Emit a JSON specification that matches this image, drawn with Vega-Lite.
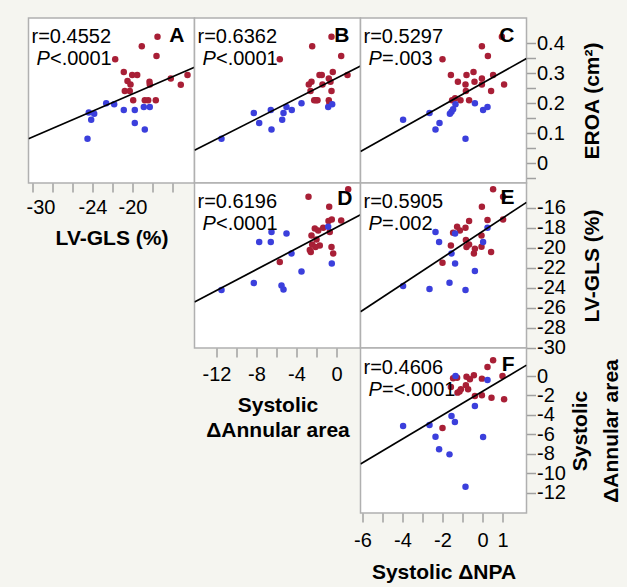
{
  "$schema": "https://vega.github.io/schema/vega-lite/v6.json",
  "background": "#f5f5f0",
  "padding": {"left": 24.5, "top": 17, "right": 4, "bottom": 4},
  "datasets": {
    "pts": [
      {"panel":"A","grp":"G1","x":-17.5,"y":0.422},{"panel":"A","grp":"G1","x":-19.07,"y":0.39},{"panel":"A","grp":"G1","x":-17.6,"y":0.358},{"panel":"A","grp":"G1","x":-21.73,"y":0.347},{"panel":"A","grp":"G1","x":-20.87,"y":0.304},{"panel":"A","grp":"G1","x":-20.03,"y":0.294},{"panel":"A","grp":"G1","x":-19.53,"y":0.294},{"panel":"A","grp":"G1","x":-20.5,"y":0.274},{"panel":"A","grp":"G1","x":-20.2,"y":0.263},{"panel":"A","grp":"G1","x":-18.3,"y":0.272},{"panel":"A","grp":"G1","x":-18.27,"y":0.263},{"panel":"A","grp":"G1","x":-16.17,"y":0.283},{"panel":"A","grp":"G1","x":-14.5,"y":0.294},{"panel":"A","grp":"G1","x":-15.17,"y":0.262},{"panel":"A","grp":"G1","x":-20.77,"y":0.241},{"panel":"A","grp":"G1","x":-20.27,"y":0.241},{"panel":"A","grp":"G1","x":-19.93,"y":0.21},{"panel":"A","grp":"G1","x":-18.77,"y":0.21},{"panel":"A","grp":"G1","x":-18.43,"y":0.21},{"panel":"A","grp":"G1","x":-17.67,"y":0.21},
      {"panel":"A","grp":"G2","x":-22.63,"y":0.2},{"panel":"A","grp":"G2","x":-21.83,"y":0.197},{"panel":"A","grp":"G2","x":-24.37,"y":0.169},{"panel":"A","grp":"G2","x":-23.83,"y":0.165},{"panel":"A","grp":"G2","x":-24.13,"y":0.145},{"panel":"A","grp":"G2","x":-20.87,"y":0.178},{"panel":"A","grp":"G2","x":-19.77,"y":0.178},{"panel":"A","grp":"G2","x":-18.87,"y":0.188},{"panel":"A","grp":"G2","x":-18.27,"y":0.188},{"panel":"A","grp":"G2","x":-19.77,"y":0.134},{"panel":"A","grp":"G2","x":-18.77,"y":0.113},{"panel":"A","grp":"G2","x":-24.5,"y":0.082},
      {"panel":"B","grp":"G1","x":-0.5,"y":0.422},{"panel":"B","grp":"G1","x":-2.43,"y":0.39},{"panel":"B","grp":"G1","x":0.47,"y":0.358},{"panel":"B","grp":"G1","x":-5.67,"y":0.347},{"panel":"B","grp":"G1","x":-0.37,"y":0.304},{"panel":"B","grp":"G1","x":-1.7,"y":0.294},{"panel":"B","grp":"G1","x":-1.47,"y":0.294},{"panel":"B","grp":"G1","x":1.1,"y":0.294},{"panel":"B","grp":"G1","x":-0.77,"y":0.283},{"panel":"B","grp":"G1","x":-2.5,"y":0.272},{"panel":"B","grp":"G1","x":-2.77,"y":0.263},{"panel":"B","grp":"G1","x":-1.4,"y":0.263},{"panel":"B","grp":"G1","x":-0.6,"y":0.272},{"panel":"B","grp":"G1","x":-2.6,"y":0.241},{"panel":"B","grp":"G1","x":-0.5,"y":0.241},{"panel":"B","grp":"G1","x":-2.23,"y":0.21},{"panel":"B","grp":"G1","x":-1.9,"y":0.21},{"panel":"B","grp":"G1","x":-0.77,"y":0.21},{"panel":"B","grp":"G1","x":-2.05,"y":0.21},{"panel":"B","grp":"G1","x":-0.7,"y":0.2},
      {"panel":"B","grp":"G2","x":-11.5,"y":0.082},{"panel":"B","grp":"G2","x":-8.27,"y":0.168},{"panel":"B","grp":"G2","x":-7.73,"y":0.134},{"panel":"B","grp":"G2","x":-6.57,"y":0.178},{"panel":"B","grp":"G2","x":-6.5,"y":0.113},{"panel":"B","grp":"G2","x":-5.43,"y":0.145},{"panel":"B","grp":"G2","x":-5.3,"y":0.168},{"panel":"B","grp":"G2","x":-5.0,"y":0.188},{"panel":"B","grp":"G2","x":-4.47,"y":0.178},{"panel":"B","grp":"G2","x":-3.5,"y":0.2},{"panel":"B","grp":"G2","x":-0.83,"y":0.188},{"panel":"B","grp":"G2","x":-0.43,"y":0.197},
      {"panel":"C","grp":"G1","x":0.97,"y":0.422},{"panel":"C","grp":"G1","x":-0.03,"y":0.39},{"panel":"C","grp":"G1","x":0.27,"y":0.358},{"panel":"C","grp":"G1","x":-2.0,"y":0.347},{"panel":"C","grp":"G1","x":-1.58,"y":0.294},{"panel":"C","grp":"G1","x":-0.8,"y":0.294},{"panel":"C","grp":"G1","x":-0.45,"y":0.304},{"panel":"C","grp":"G1","x":-1.23,"y":0.272},{"panel":"C","grp":"G1","x":-0.4,"y":0.272},{"panel":"C","grp":"G1","x":-0.03,"y":0.283},{"panel":"C","grp":"G1","x":0.53,"y":0.294},{"panel":"C","grp":"G1","x":-0.85,"y":0.263},{"panel":"C","grp":"G1","x":-0.03,"y":0.263},{"panel":"C","grp":"G1","x":1.08,"y":0.263},{"panel":"C","grp":"G1","x":-0.83,"y":0.241},{"panel":"C","grp":"G1","x":0.43,"y":0.241},{"panel":"C","grp":"G1","x":-1.52,"y":0.21},{"panel":"C","grp":"G1","x":-1.1,"y":0.21},{"panel":"C","grp":"G1","x":-0.67,"y":0.21},{"panel":"C","grp":"G1","x":-1.37,"y":0.217},
      {"panel":"C","grp":"G2","x":-3.97,"y":0.145},{"panel":"C","grp":"G2","x":-2.65,"y":0.168},{"panel":"C","grp":"G2","x":-2.35,"y":0.113},{"panel":"C","grp":"G2","x":-2.15,"y":0.134},{"panel":"C","grp":"G2","x":-1.63,"y":0.165},{"panel":"C","grp":"G2","x":-1.55,"y":0.172},{"panel":"C","grp":"G2","x":-1.47,"y":0.18},{"panel":"C","grp":"G2","x":-1.35,"y":0.197},{"panel":"C","grp":"G2","x":-0.38,"y":0.2},{"panel":"C","grp":"G2","x":0.03,"y":0.178},{"panel":"C","grp":"G2","x":0.25,"y":0.188},{"panel":"C","grp":"G2","x":-0.85,"y":0.082},
      {"panel":"D","grp":"G1","x":1.17,"y":-14.16},{"panel":"D","grp":"G1","x":-2.8,"y":-14.9},{"panel":"D","grp":"G1","x":-0.73,"y":-15.9},{"panel":"D","grp":"G1","x":-0.8,"y":-17.33},{"panel":"D","grp":"G1","x":-0.47,"y":-17.17},{"panel":"D","grp":"G1","x":0.47,"y":-17.27},{"panel":"D","grp":"G1","x":-2.17,"y":-18.07},{"panel":"D","grp":"G1","x":-1.83,"y":-18.27},{"panel":"D","grp":"G1","x":-1.33,"y":-18.0},{"panel":"D","grp":"G1","x":-0.67,"y":-18.43},{"panel":"D","grp":"G1","x":-2.5,"y":-18.77},{"panel":"D","grp":"G1","x":-2.0,"y":-19.17},{"panel":"D","grp":"G1","x":-2.43,"y":-19.67},{"panel":"D","grp":"G1","x":-1.67,"y":-19.77},{"panel":"D","grp":"G1","x":-2.1,"y":-19.93},{"panel":"D","grp":"G1","x":-2.57,"y":-20.43},{"panel":"D","grp":"G1","x":-2.67,"y":-20.23},{"panel":"D","grp":"G1","x":-0.5,"y":-19.93},{"panel":"D","grp":"G1","x":-0.33,"y":-20.57},{"panel":"D","grp":"G1","x":-5.67,"y":-21.43},
      {"panel":"D","grp":"G2","x":-6.5,"y":-18.43},{"panel":"D","grp":"G2","x":-5.0,"y":-18.57},{"panel":"D","grp":"G2","x":-7.73,"y":-19.43},{"panel":"D","grp":"G2","x":-6.57,"y":-19.43},{"panel":"D","grp":"G2","x":-4.5,"y":-20.57},{"panel":"D","grp":"G2","x":-0.83,"y":-17.9},{"panel":"D","grp":"G2","x":-0.47,"y":-21.57},{"panel":"D","grp":"G2","x":-3.5,"y":-22.37},{"panel":"D","grp":"G2","x":-8.27,"y":-23.53},{"panel":"D","grp":"G2","x":-5.5,"y":-23.77},{"panel":"D","grp":"G2","x":-5.3,"y":-24.17},{"panel":"D","grp":"G2","x":-11.5,"y":-24.23},
      {"panel":"E","grp":"G1","x":0.53,"y":-14.16},{"panel":"E","grp":"G1","x":1.03,"y":-14.9},{"panel":"E","grp":"G1","x":-0.03,"y":-15.9},{"panel":"E","grp":"G1","x":-0.67,"y":-17.33},{"panel":"E","grp":"G1","x":0.25,"y":-17.23},{"panel":"E","grp":"G1","x":1.03,"y":-17.17},{"panel":"E","grp":"G1","x":-1.27,"y":-17.9},{"panel":"E","grp":"G1","x":-0.85,"y":-18.0},{"panel":"E","grp":"G1","x":-1.13,"y":-18.27},{"panel":"E","grp":"G1","x":-1.47,"y":-18.5},{"panel":"E","grp":"G1","x":-0.05,"y":-18.77},{"panel":"E","grp":"G1","x":-0.83,"y":-19.23},{"panel":"E","grp":"G1","x":-1.58,"y":-19.77},{"panel":"E","grp":"G1","x":-0.8,"y":-19.93},{"panel":"E","grp":"G1","x":-0.67,"y":-19.67},{"panel":"E","grp":"G1","x":-0.05,"y":-19.9},{"panel":"E","grp":"G1","x":-0.38,"y":-20.1},{"panel":"E","grp":"G1","x":-0.43,"y":-20.57},{"panel":"E","grp":"G1","x":0.43,"y":-20.43},{"panel":"E","grp":"G1","x":-2.0,"y":-21.5},
      {"panel":"E","grp":"G2","x":-2.35,"y":-18.43},{"panel":"E","grp":"G2","x":-1.37,"y":-18.57},{"panel":"E","grp":"G2","x":-2.17,"y":-19.43},{"panel":"E","grp":"G2","x":0.25,"y":-18.0},{"panel":"E","grp":"G2","x":0.03,"y":-19.43},{"panel":"E","grp":"G2","x":-1.55,"y":-20.57},{"panel":"E","grp":"G2","x":-1.37,"y":-21.57},{"panel":"E","grp":"G2","x":-0.38,"y":-22.33},{"panel":"E","grp":"G2","x":-3.97,"y":-23.83},{"panel":"E","grp":"G2","x":-1.65,"y":-23.5},{"panel":"E","grp":"G2","x":-2.65,"y":-24.13},{"panel":"E","grp":"G2","x":-0.85,"y":-24.23},
      {"panel":"F","grp":"G1","x":0.53,"y":1.61},{"panel":"F","grp":"G1","x":0.25,"y":0.93},{"panel":"F","grp":"G1","x":-1.47,"y":-0.24},{"panel":"F","grp":"G1","x":-1.27,"y":-0.17},{"panel":"F","grp":"G1","x":-0.8,"y":-0.07},{"panel":"F","grp":"G1","x":-0.63,"y":-0.34},{"panel":"F","grp":"G1","x":-0.43,"y":0.07},{"panel":"F","grp":"G1","x":-0.03,"y":-0.27},{"panel":"F","grp":"G1","x":1.0,"y":0.0},{"panel":"F","grp":"G1","x":-1.58,"y":-1.13},{"panel":"F","grp":"G1","x":-1.08,"y":-1.37},{"panel":"F","grp":"G1","x":-0.83,"y":-0.96},{"panel":"F","grp":"G1","x":-0.72,"y":-1.37},{"panel":"F","grp":"G1","x":-1.25,"y":-1.71},{"panel":"F","grp":"G1","x":-0.38,"y":-2.06},{"panel":"F","grp":"G1","x":-0.03,"y":-1.99},{"panel":"F","grp":"G1","x":0.45,"y":-2.23},{"panel":"F","grp":"G1","x":1.08,"y":-2.4},{"panel":"F","grp":"G1","x":-2.0,"y":-5.35},{"panel":"F","grp":"G1","x":-1.15,"y":-1.6},
      {"panel":"F","grp":"G2","x":-1.35,"y":0.0},{"panel":"F","grp":"G2","x":0.25,"y":-0.41},{"panel":"F","grp":"G2","x":-0.38,"y":-3.09},{"panel":"F","grp":"G2","x":-1.55,"y":-4.12},{"panel":"F","grp":"G2","x":-1.38,"y":-4.73},{"panel":"F","grp":"G2","x":-3.97,"y":-5.14},{"panel":"F","grp":"G2","x":-2.65,"y":-5.04},{"panel":"F","grp":"G2","x":-2.35,"y":-6.24},{"panel":"F","grp":"G2","x":0.03,"y":-6.28},{"panel":"F","grp":"G2","x":-2.17,"y":-7.54},{"panel":"F","grp":"G2","x":-1.65,"y":-8.06},{"panel":"F","grp":"G2","x":-0.85,"y":-11.39}
    ],
    "fit": [
      {"panel":"A","x":-30.4,"y":0.0817},{"panel":"A","x":-13.8,"y":0.3203},
      {"panel":"B","x":-14.2,"y":0.0433},{"panel":"B","x":2.4,"y":0.3242},
      {"panel":"C","x":-6.1,"y":0.0391},{"panel":"C","x":2.2,"y":0.3492},
      {"panel":"D","x":-14.2,"y":-25.44},{"panel":"D","x":2.4,"y":-16.71},
      {"panel":"E","x":-6.1,"y":-26.4},{"panel":"E","x":2.2,"y":-15.47},
      {"panel":"F","x":-6.1,"y":-9.04},{"panel":"F","x":2.2,"y":1.118}
    ],
    "stats": [
      {"panel":"A","r":"r=0.4552","p":"<.0001"},
      {"panel":"B","r":"r=0.6362","p":"<.0001"},
      {"panel":"C","r":"r=0.5297","p":"=.003"},
      {"panel":"D","r":"r=0.6196","p":"<.0001"},
      {"panel":"E","r":"r=0.5905","p":"=.002"},
      {"panel":"F","r":"r=0.4606","p":"=<.0001"}
    ]
  },
  "columns": 3,
  "spacing": 0,
  "bounds": "flush",
  "concat": [
    {
      "width": 166, "height": 165,
      "layer": [
        {"data": {"name": "pts"}, "transform": [{"filter": "datum.panel == 'A'"}], "mark": {"type": "circle", "size": 42, "opacity": 1},
         "encoding": {
           "x": {"field": "x", "type": "quantitative", "scale": {"domain": [-30.4, -13.8], "nice": false, "zero": false},
                 "axis": {"orient": "bottom", "values": [-30,-28,-26,-24,-22,-20,-18,-16], "tickCount": 30, "labelExpr": "indexof([-30,-24,-20], datum.value) >= 0 ? toString(datum.value) : ''", "labelOverlap": false, "labelOffset": {"condition": {"test": "datum.value == -30", "value": 8}, "value": 0}, "labelPadding": 5, "title": "LV-GLS (%)", "titlePadding": 10}},
           "y": {"field": "y", "type": "quantitative", "scale": {"domain": [-0.0657, 0.4843], "nice": false, "zero": false}, "axis": null},
           "color": {"field": "grp", "type": "nominal", "scale": {"domain": ["G1", "G2"], "range": ["#a81f36", "#3b3fdc"]}, "legend": null}}},
        {"data": {"name": "fit"}, "transform": [{"filter": "datum.panel == 'A'"}], "mark": {"type": "line", "color": "black", "strokeWidth": 1.7, "clip": true},
         "encoding": {"x": {"field": "x", "type": "quantitative"}, "y": {"field": "y", "type": "quantitative"}}},
        {"data": {"name": "stats"}, "transform": [{"filter": "datum.panel == 'A'"}], "mark": {"type": "text", "align": "left", "baseline": "alphabetic", "dx": 3, "dy": 25},
         "encoding": {"x": {"datum": -30.4, "type": "quantitative"}, "y": {"datum": 0.4843, "type": "quantitative"}, "text": {"field": "r"}}},
        {"data": {"name": "stats"}, "transform": [{"filter": "datum.panel == 'A'"}], "mark": {"type": "text", "align": "left", "baseline": "alphabetic", "dx": 8, "dy": 47, "fontStyle": "italic", "text": "P"},
         "encoding": {"x": {"datum": -30.4, "type": "quantitative"}, "y": {"datum": 0.4843, "type": "quantitative"}}},
        {"data": {"name": "stats"}, "transform": [{"filter": "datum.panel == 'A'"}], "mark": {"type": "text", "align": "left", "baseline": "alphabetic", "dx": 21.5, "dy": 47},
         "encoding": {"x": {"datum": -30.4, "type": "quantitative"}, "y": {"datum": 0.4843, "type": "quantitative"}, "text": {"field": "p"}}},
        {"data": {"name": "stats"}, "transform": [{"filter": "datum.panel == 'A'"}], "mark": {"type": "text", "align": "right", "baseline": "alphabetic", "dx": -10, "dy": 24, "fontWeight": "bold", "fontSize": 21},
         "encoding": {"x": {"datum": -13.8, "type": "quantitative"}, "y": {"datum": 0.4843, "type": "quantitative"}, "text": {"field": "panel"}}}
      ]
    },
    {
      "width": 166, "height": 165,
      "layer": [
        {"data": {"name": "pts"}, "transform": [{"filter": "datum.panel == 'B'"}], "mark": {"type": "circle", "size": 42, "opacity": 1},
         "encoding": {
           "x": {"field": "x", "type": "quantitative", "scale": {"domain": [-14.2, 2.4], "nice": false, "zero": false}, "axis": null},
           "y": {"field": "y", "type": "quantitative", "scale": {"domain": [-0.0657, 0.4843], "nice": false, "zero": false}, "axis": null},
           "color": {"field": "grp", "type": "nominal", "scale": {"domain": ["G1", "G2"], "range": ["#a81f36", "#3b3fdc"]}, "legend": null}}},
        {"data": {"name": "fit"}, "transform": [{"filter": "datum.panel == 'B'"}], "mark": {"type": "line", "color": "black", "strokeWidth": 1.7, "clip": true},
         "encoding": {"x": {"field": "x", "type": "quantitative"}, "y": {"field": "y", "type": "quantitative"}}},
        {"data": {"name": "stats"}, "transform": [{"filter": "datum.panel == 'B'"}], "mark": {"type": "text", "align": "left", "baseline": "alphabetic", "dx": 3, "dy": 25},
         "encoding": {"x": {"datum": -14.2, "type": "quantitative"}, "y": {"datum": 0.4843, "type": "quantitative"}, "text": {"field": "r"}}},
        {"data": {"name": "stats"}, "transform": [{"filter": "datum.panel == 'B'"}], "mark": {"type": "text", "align": "left", "baseline": "alphabetic", "dx": 8, "dy": 47, "fontStyle": "italic", "text": "P"},
         "encoding": {"x": {"datum": -14.2, "type": "quantitative"}, "y": {"datum": 0.4843, "type": "quantitative"}}},
        {"data": {"name": "stats"}, "transform": [{"filter": "datum.panel == 'B'"}], "mark": {"type": "text", "align": "left", "baseline": "alphabetic", "dx": 21.5, "dy": 47},
         "encoding": {"x": {"datum": -14.2, "type": "quantitative"}, "y": {"datum": 0.4843, "type": "quantitative"}, "text": {"field": "p"}}},
        {"data": {"name": "stats"}, "transform": [{"filter": "datum.panel == 'B'"}], "mark": {"type": "text", "align": "right", "baseline": "alphabetic", "dx": -11, "dy": 24, "fontWeight": "bold", "fontSize": 21},
         "encoding": {"x": {"datum": 2.4, "type": "quantitative"}, "y": {"datum": 0.4843, "type": "quantitative"}, "text": {"field": "panel"}}}
      ]
    },
    {
      "width": 166, "height": 165,
      "layer": [
        {"data": {"name": "pts"}, "transform": [{"filter": "datum.panel == 'C'"}], "mark": {"type": "circle", "size": 42, "opacity": 1},
         "encoding": {
           "x": {"field": "x", "type": "quantitative", "scale": {"domain": [-6.1, 2.2], "nice": false, "zero": false}, "axis": null},
           "y": {"field": "y", "type": "quantitative", "scale": {"domain": [-0.0657, 0.4843], "nice": false, "zero": false},
                 "axis": {"orient": "right", "values": [-0.05,0,0.05,0.1,0.15,0.2,0.25,0.3,0.35,0.4], "tickCount": 30, "labelExpr": "indexof([0,0.1,0.2,0.3,0.4], datum.value) >= 0 ? toString(datum.value) : ''", "labelOverlap": false, "labelPadding": 1, "title": "EROA (cm²)", "titleAngle": 270, "titleBaseline": "top", "titlePadding": 17}},
           "color": {"field": "grp", "type": "nominal", "scale": {"domain": ["G1", "G2"], "range": ["#a81f36", "#3b3fdc"]}, "legend": null}}},
        {"data": {"name": "fit"}, "transform": [{"filter": "datum.panel == 'C'"}], "mark": {"type": "line", "color": "black", "strokeWidth": 1.7, "clip": true},
         "encoding": {"x": {"field": "x", "type": "quantitative"}, "y": {"field": "y", "type": "quantitative"}}},
        {"data": {"name": "stats"}, "transform": [{"filter": "datum.panel == 'C'"}], "mark": {"type": "text", "align": "left", "baseline": "alphabetic", "dx": 3, "dy": 25},
         "encoding": {"x": {"datum": -6.1, "type": "quantitative"}, "y": {"datum": 0.4843, "type": "quantitative"}, "text": {"field": "r"}}},
        {"data": {"name": "stats"}, "transform": [{"filter": "datum.panel == 'C'"}], "mark": {"type": "text", "align": "left", "baseline": "alphabetic", "dx": 8, "dy": 47, "fontStyle": "italic", "text": "P"},
         "encoding": {"x": {"datum": -6.1, "type": "quantitative"}, "y": {"datum": 0.4843, "type": "quantitative"}}},
        {"data": {"name": "stats"}, "transform": [{"filter": "datum.panel == 'C'"}], "mark": {"type": "text", "align": "left", "baseline": "alphabetic", "dx": 21.5, "dy": 47},
         "encoding": {"x": {"datum": -6.1, "type": "quantitative"}, "y": {"datum": 0.4843, "type": "quantitative"}, "text": {"field": "p"}}},
        {"data": {"name": "stats"}, "transform": [{"filter": "datum.panel == 'C'"}], "mark": {"type": "text", "align": "right", "baseline": "alphabetic", "dx": -12, "dy": 24, "fontWeight": "bold", "fontSize": 21},
         "encoding": {"x": {"datum": 2.2, "type": "quantitative"}, "y": {"datum": 0.4843, "type": "quantitative"}, "text": {"field": "panel"}}}
      ]
    },
    {"width": 166, "height": 165, "data": {"values": []}, "mark": "point", "view": {"stroke": null, "fill": null}},
    {
      "width": 166, "height": 165,
      "layer": [
        {"data": {"name": "pts"}, "transform": [{"filter": "datum.panel == 'D'"}], "mark": {"type": "circle", "size": 42, "opacity": 1},
         "encoding": {
           "x": {"field": "x", "type": "quantitative", "scale": {"domain": [-14.2, 2.4], "nice": false, "zero": false},
                 "axis": {"orient": "bottom", "values": [-12,-10,-8,-6,-4,-2,0], "tickCount": 30, "labelExpr": "indexof([-12,-8,-4,0], datum.value) >= 0 ? toString(datum.value) : ''", "labelOverlap": false, "labelPadding": 7, "title": ["Systolic", "ΔAnnular area"], "titleLineHeight": 25, "titlePadding": 10}},
           "y": {"field": "y", "type": "quantitative", "scale": {"domain": [-30.03, -13.53], "nice": false, "zero": false}, "axis": null},
           "color": {"field": "grp", "type": "nominal", "scale": {"domain": ["G1", "G2"], "range": ["#a81f36", "#3b3fdc"]}, "legend": null}}},
        {"data": {"name": "fit"}, "transform": [{"filter": "datum.panel == 'D'"}], "mark": {"type": "line", "color": "black", "strokeWidth": 1.7, "clip": true},
         "encoding": {"x": {"field": "x", "type": "quantitative"}, "y": {"field": "y", "type": "quantitative"}}},
        {"data": {"name": "stats"}, "transform": [{"filter": "datum.panel == 'D'"}], "mark": {"type": "text", "align": "left", "baseline": "alphabetic", "dx": 3, "dy": 25},
         "encoding": {"x": {"datum": -14.2, "type": "quantitative"}, "y": {"datum": -13.53, "type": "quantitative"}, "text": {"field": "r"}}},
        {"data": {"name": "stats"}, "transform": [{"filter": "datum.panel == 'D'"}], "mark": {"type": "text", "align": "left", "baseline": "alphabetic", "dx": 8, "dy": 47, "fontStyle": "italic", "text": "P"},
         "encoding": {"x": {"datum": -14.2, "type": "quantitative"}, "y": {"datum": -13.53, "type": "quantitative"}}},
        {"data": {"name": "stats"}, "transform": [{"filter": "datum.panel == 'D'"}], "mark": {"type": "text", "align": "left", "baseline": "alphabetic", "dx": 21.5, "dy": 47},
         "encoding": {"x": {"datum": -14.2, "type": "quantitative"}, "y": {"datum": -13.53, "type": "quantitative"}, "text": {"field": "p"}}},
        {"data": {"name": "stats"}, "transform": [{"filter": "datum.panel == 'D'"}], "mark": {"type": "text", "align": "right", "baseline": "alphabetic", "dx": -8, "dy": 22, "fontWeight": "bold", "fontSize": 21},
         "encoding": {"x": {"datum": 2.4, "type": "quantitative"}, "y": {"datum": -13.53, "type": "quantitative"}, "text": {"field": "panel"}}}
      ]
    },
    {
      "width": 166, "height": 165,
      "layer": [
        {"data": {"name": "pts"}, "transform": [{"filter": "datum.panel == 'E'"}], "mark": {"type": "circle", "size": 42, "opacity": 1},
         "encoding": {
           "x": {"field": "x", "type": "quantitative", "scale": {"domain": [-6.1, 2.2], "nice": false, "zero": false}, "axis": null},
           "y": {"field": "y", "type": "quantitative", "scale": {"domain": [-30.03, -13.53], "nice": false, "zero": false},
                 "axis": {"orient": "right", "values": [-30,-28,-26,-24,-22,-20,-18,-16], "tickCount": 30, "labelExpr": "toString(datum.value)", "labelOverlap": false, "labelPadding": 1, "title": "LV-GLS (%)", "titleAngle": 270, "titleBaseline": "top", "titlePadding": 16}},
           "color": {"field": "grp", "type": "nominal", "scale": {"domain": ["G1", "G2"], "range": ["#a81f36", "#3b3fdc"]}, "legend": null}}},
        {"data": {"name": "fit"}, "transform": [{"filter": "datum.panel == 'E'"}], "mark": {"type": "line", "color": "black", "strokeWidth": 1.7, "clip": true},
         "encoding": {"x": {"field": "x", "type": "quantitative"}, "y": {"field": "y", "type": "quantitative"}}},
        {"data": {"name": "stats"}, "transform": [{"filter": "datum.panel == 'E'"}], "mark": {"type": "text", "align": "left", "baseline": "alphabetic", "dx": 3, "dy": 25},
         "encoding": {"x": {"datum": -6.1, "type": "quantitative"}, "y": {"datum": -13.53, "type": "quantitative"}, "text": {"field": "r"}}},
        {"data": {"name": "stats"}, "transform": [{"filter": "datum.panel == 'E'"}], "mark": {"type": "text", "align": "left", "baseline": "alphabetic", "dx": 8, "dy": 47, "fontStyle": "italic", "text": "P"},
         "encoding": {"x": {"datum": -6.1, "type": "quantitative"}, "y": {"datum": -13.53, "type": "quantitative"}}},
        {"data": {"name": "stats"}, "transform": [{"filter": "datum.panel == 'E'"}], "mark": {"type": "text", "align": "left", "baseline": "alphabetic", "dx": 21.5, "dy": 47},
         "encoding": {"x": {"datum": -6.1, "type": "quantitative"}, "y": {"datum": -13.53, "type": "quantitative"}, "text": {"field": "p"}}},
        {"data": {"name": "stats"}, "transform": [{"filter": "datum.panel == 'E'"}], "mark": {"type": "text", "align": "right", "baseline": "alphabetic", "dx": -12, "dy": 21, "fontWeight": "bold", "fontSize": 21},
         "encoding": {"x": {"datum": 2.2, "type": "quantitative"}, "y": {"datum": -13.53, "type": "quantitative"}, "text": {"field": "panel"}}}
      ]
    },
    {"width": 166, "height": 165, "data": {"values": []}, "mark": "point", "view": {"stroke": null, "fill": null}},
    {"width": 166, "height": 165, "data": {"values": []}, "mark": "point", "view": {"stroke": null, "fill": null}},
    {
      "width": 166, "height": 165,
      "layer": [
        {"data": {"name": "pts"}, "transform": [{"filter": "datum.panel == 'F'"}], "mark": {"type": "circle", "size": 42, "opacity": 1},
         "encoding": {
           "x": {"field": "x", "type": "quantitative", "scale": {"domain": [-6.1, 2.2], "nice": false, "zero": false},
                 "axis": {"orient": "bottom", "values": [-6,-5,-4,-3,-2,-1,0,1], "tickCount": 30, "labelExpr": "indexof([-6,-4,-2,0,1], datum.value) >= 0 ? toString(datum.value) : ''", "labelOverlap": false, "labelPadding": 8, "title": "Systolic ΔNPA", "titlePadding": 11}},
           "y": {"field": "y", "type": "quantitative", "scale": {"domain": [-14.09, 2.88], "nice": false, "zero": false},
                 "axis": {"orient": "right", "values": [-12,-10,-8,-6,-4,-2,0], "tickCount": 30, "labelExpr": "toString(datum.value)", "labelOverlap": false, "labelPadding": 1, "title": ["Systolic", "ΔAnnular area"], "titleAngle": 270, "titleBaseline": "top", "titleLineHeight": 31, "titlePadding": -27}},
           "color": {"field": "grp", "type": "nominal", "scale": {"domain": ["G1", "G2"], "range": ["#a81f36", "#3b3fdc"]}, "legend": null}}},
        {"data": {"name": "fit"}, "transform": [{"filter": "datum.panel == 'F'"}], "mark": {"type": "line", "color": "black", "strokeWidth": 1.7, "clip": true},
         "encoding": {"x": {"field": "x", "type": "quantitative"}, "y": {"field": "y", "type": "quantitative"}}},
        {"data": {"name": "stats"}, "transform": [{"filter": "datum.panel == 'F'"}], "mark": {"type": "text", "align": "left", "baseline": "alphabetic", "dx": 3, "dy": 26},
         "encoding": {"x": {"datum": -6.1, "type": "quantitative"}, "y": {"datum": 2.88, "type": "quantitative"}, "text": {"field": "r"}}},
        {"data": {"name": "stats"}, "transform": [{"filter": "datum.panel == 'F'"}], "mark": {"type": "text", "align": "left", "baseline": "alphabetic", "dx": 8, "dy": 48, "fontStyle": "italic", "text": "P"},
         "encoding": {"x": {"datum": -6.1, "type": "quantitative"}, "y": {"datum": 2.88, "type": "quantitative"}}},
        {"data": {"name": "stats"}, "transform": [{"filter": "datum.panel == 'F'"}], "mark": {"type": "text", "align": "left", "baseline": "alphabetic", "dx": 21.5, "dy": 48},
         "encoding": {"x": {"datum": -6.1, "type": "quantitative"}, "y": {"datum": 2.88, "type": "quantitative"}, "text": {"field": "p"}}},
        {"data": {"name": "stats"}, "transform": [{"filter": "datum.panel == 'F'"}], "mark": {"type": "text", "align": "right", "baseline": "alphabetic", "dx": -12, "dy": 23, "fontWeight": "bold", "fontSize": 21},
         "encoding": {"x": {"datum": 2.2, "type": "quantitative"}, "y": {"datum": 2.88, "type": "quantitative"}, "text": {"field": "panel"}}}
      ]
    }
  ],
  "config": {
    "font": "Liberation Sans",
    "view": {"stroke": "#b0b0b0", "strokeWidth": 1.5, "fill": "white"},
    "axis": {"grid": false, "domain": false, "tickColor": "#a0a0a0", "tickWidth": 1.5, "tickSize": 9, "labelFont": "Liberation Sans", "labelFontSize": 20, "labelColor": "black", "labelOverlap": false, "labelFlush": false, "labelBound": false, "titleFont": "Liberation Sans", "titleFontSize": 21, "titleFontWeight": "bold", "titleColor": "black"},
    "text": {"font": "Liberation Sans", "fontSize": 20, "color": "black"}
  }
}
